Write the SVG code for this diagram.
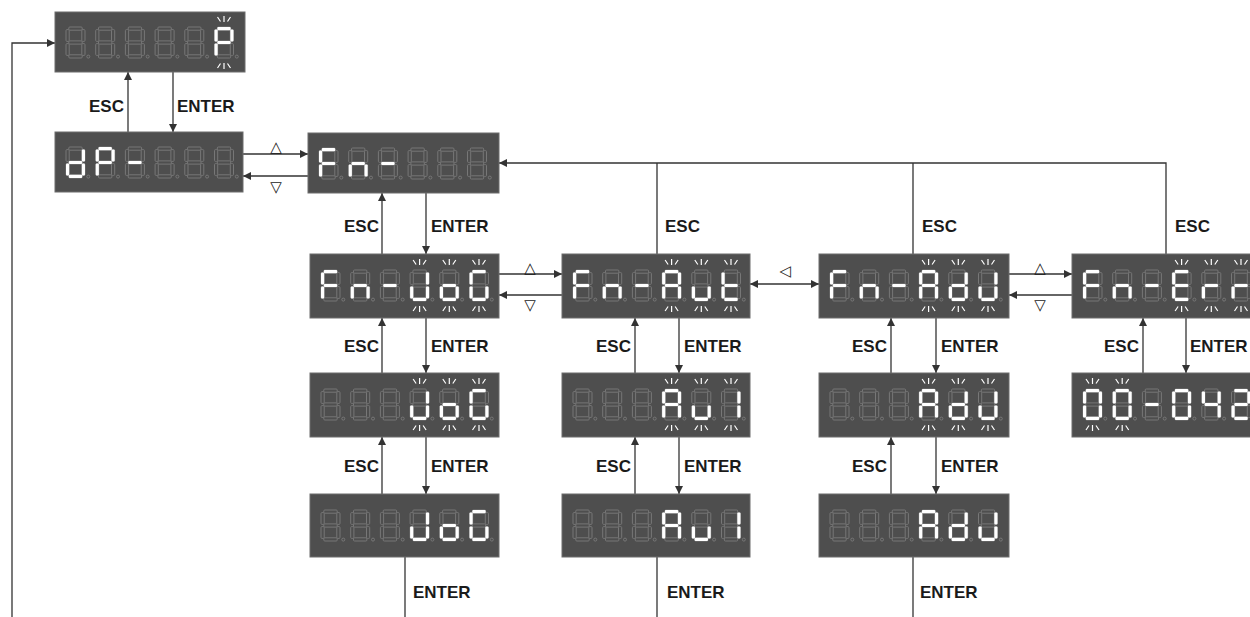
<svg xmlns="http://www.w3.org/2000/svg" xmlns:xlink="http://www.w3.org/1999/xlink" width="1250" height="617" viewBox="0 0 1250 617">
<style>
.box{fill:#4e4e4e;stroke:#6c6c6c;stroke-width:1}
.ln{fill:none;stroke:#333;stroke-width:1.3}
.lb{font-family:"Liberation Sans",Arial,sans-serif;font-weight:bold;font-size:17px;fill:#1a1a1a}
.tri{font-family:"DejaVu Sans",sans-serif;font-size:15px;fill:#1a1a1a;text-anchor:middle}
</style>
<defs>
<marker id="ar" viewBox="0 0 10 10" refX="10" refY="5" markerWidth="8" markerHeight="8" orient="auto-start-reverse" markerUnits="userSpaceOnUse"><path d="M0,0 L10,5 L0,10 z" fill="#333"/></marker>
<rect id="sa" x="2.8" y="0" width="13.4" height="3.2" rx="1"/>
<rect id="sf" x="0" y="2.6" width="3.2" height="11.8" rx="1"/>
<rect id="sb" x="15.8" y="2.6" width="3.2" height="11.8" rx="1"/>
<rect id="sg" x="2.8" y="13.9" width="13.4" height="3.2" rx="1"/>
<rect id="se" x="0" y="16.6" width="3.2" height="11.8" rx="1"/>
<rect id="sc" x="15.8" y="16.6" width="3.2" height="11.8" rx="1"/>
<rect id="sd" x="2.8" y="27.8" width="13.4" height="3.2" rx="1"/>
<circle id="sp" cx="22.3" cy="29.6" r="1.5"/>
<g id="c8" fill="none" stroke="#777" stroke-width="1"><use href="#sa"/><use href="#sb"/><use href="#sc"/><use href="#sd"/><use href="#se"/><use href="#sf"/><use href="#sg"/><use href="#sp"/></g>
<g id="cF"><use href="#c8"/><g fill="#fff"><use href="#sa"/><use href="#se"/><use href="#sf"/><use href="#sg"/></g></g>
<g id="cn"><use href="#c8"/><g fill="#fff"><use href="#sc"/><use href="#se"/><use href="#sg"/></g></g>
<g id="cm"><use href="#c8"/><g fill="#fff"><use href="#sg"/></g></g>
<g id="cJ"><use href="#c8"/><g fill="#fff"><use href="#sb"/><use href="#sc"/><use href="#sd"/><use href="#se"/></g></g>
<g id="co"><use href="#c8"/><g fill="#fff"><use href="#sc"/><use href="#sd"/><use href="#se"/><use href="#sg"/></g></g>
<g id="cG"><use href="#c8"/><g fill="#fff"><use href="#sa"/><use href="#sc"/><use href="#sd"/><use href="#se"/><use href="#sf"/></g></g>
<g id="cA"><use href="#c8"/><g fill="#fff"><use href="#sa"/><use href="#sb"/><use href="#sc"/><use href="#se"/><use href="#sf"/><use href="#sg"/></g></g>
<g id="cu"><use href="#c8"/><g fill="#fff"><use href="#sc"/><use href="#sd"/><use href="#se"/></g></g>
<g id="ct"><use href="#c8"/><g fill="#fff"><use href="#sd"/><use href="#se"/><use href="#sf"/><use href="#sg"/></g></g>
<g id="cd"><use href="#c8"/><g fill="#fff"><use href="#sb"/><use href="#sc"/><use href="#sd"/><use href="#se"/><use href="#sg"/></g></g>
<g id="cE"><use href="#c8"/><g fill="#fff"><use href="#sa"/><use href="#sd"/><use href="#se"/><use href="#sf"/><use href="#sg"/></g></g>
<g id="cr"><use href="#c8"/><g fill="#fff"><use href="#se"/><use href="#sg"/></g></g>
<g id="cP"><use href="#c8"/><g fill="#fff"><use href="#sa"/><use href="#sb"/><use href="#se"/><use href="#sf"/><use href="#sg"/></g></g>
<g id="c0"><use href="#c8"/><g fill="#fff"><use href="#sa"/><use href="#sb"/><use href="#sc"/><use href="#sd"/><use href="#se"/><use href="#sf"/></g></g>
<g id="c4"><use href="#c8"/><g fill="#fff"><use href="#sb"/><use href="#sc"/><use href="#sf"/><use href="#sg"/></g></g>
<g id="c2"><use href="#c8"/><g fill="#fff"><use href="#sa"/><use href="#sb"/><use href="#sd"/><use href="#se"/><use href="#sg"/></g></g>
<g id="c1"><use href="#c8"/><g fill="#fff"><use href="#sb"/><use href="#sc"/></g></g>
<path id="bk" d="M3,-10 L6,-5.5 M9.5,-11 V-5 M16,-10 L13,-5.5 M6,36.5 L3,41 M9.5,36 V42 M13,36.5 L16,41" fill="none" stroke="#fff" stroke-width="1.2"/>
</defs>
<rect width="1250" height="617" fill="#fff"/>

<g id="connectors">
<path class="ln" d="M12,617 V43 H55" marker-end="url(#ar)"/>
<path class="ln" d="M128,132 V72" marker-end="url(#ar)"/>
<path class="ln" d="M173,72 V132" marker-end="url(#ar)"/>
<path class="ln" d="M243,154 H308" marker-end="url(#ar)"/>
<path class="ln" d="M308,176 H243" marker-end="url(#ar)"/>
<path class="ln" d="M382,254 V193" marker-end="url(#ar)"/>
<path class="ln" d="M426,193 V254" marker-end="url(#ar)"/>
<path class="ln" d="M499,274 H562" marker-end="url(#ar)"/>
<path class="ln" d="M562,295 H499" marker-end="url(#ar)"/>
<path class="ln" d="M750,284 H819" marker-start="url(#ar)" marker-end="url(#ar)"/>
<path class="ln" d="M1009,274 H1072" marker-end="url(#ar)"/>
<path class="ln" d="M1072,295 H1009" marker-end="url(#ar)"/>
<path class="ln" d="M1166,254 V163 H499" marker-end="url(#ar)"/>
<path class="ln" d="M657,254 V163 M913,254 V163"/>
<path class="ln" d="M382,373 V318" marker-end="url(#ar)"/>
<path class="ln" d="M426,318 V373" marker-end="url(#ar)"/>
<path class="ln" d="M382,494 V437" marker-end="url(#ar)"/>
<path class="ln" d="M426,437 V494" marker-end="url(#ar)"/>
<path class="ln" d="M405,557 V617"/>
<path class="ln" d="M635,373 V318" marker-end="url(#ar)"/>
<path class="ln" d="M679,318 V373" marker-end="url(#ar)"/>
<path class="ln" d="M635,494 V437" marker-end="url(#ar)"/>
<path class="ln" d="M679,437 V494" marker-end="url(#ar)"/>
<path class="ln" d="M657,557 V617"/>
<path class="ln" d="M891,373 V318" marker-end="url(#ar)"/>
<path class="ln" d="M936,318 V373" marker-end="url(#ar)"/>
<path class="ln" d="M891,494 V437" marker-end="url(#ar)"/>
<path class="ln" d="M936,437 V494" marker-end="url(#ar)"/>
<path class="ln" d="M913,557 V617"/>
<path class="ln" d="M1143,373 V318" marker-end="url(#ar)"/>
<path class="ln" d="M1186,318 V373" marker-end="url(#ar)"/>
</g>

<g id="labels">
<text class="lb" x="89" y="112">ESC</text><text class="lb" x="177" y="112">ENTER</text>
<text class="lb" x="344" y="232">ESC</text><text class="lb" x="431" y="232">ENTER</text>
<text class="lb" x="665" y="232">ESC</text><text class="lb" x="922" y="232">ESC</text><text class="lb" x="1175" y="232">ESC</text>
<text class="lb" x="344" y="352">ESC</text><text class="lb" x="431" y="352">ENTER</text>
<text class="lb" x="596" y="352">ESC</text><text class="lb" x="684" y="352">ENTER</text>
<text class="lb" x="852" y="352">ESC</text><text class="lb" x="941" y="352">ENTER</text>
<text class="lb" x="1104" y="352">ESC</text><text class="lb" x="1190" y="352">ENTER</text>
<text class="lb" x="344" y="472">ESC</text><text class="lb" x="431" y="472">ENTER</text>
<text class="lb" x="596" y="472">ESC</text><text class="lb" x="684" y="472">ENTER</text>
<text class="lb" x="852" y="472">ESC</text><text class="lb" x="941" y="472">ENTER</text>
<text class="lb" x="413" y="598">ENTER</text><text class="lb" x="667" y="598">ENTER</text><text class="lb" x="920" y="598">ENTER</text>
<text class="tri" x="276" y="152">△</text><text class="tri" x="276" y="192">▽</text>
<text class="tri" x="530" y="273">△</text><text class="tri" x="530" y="310">▽</text>
<text class="tri" x="785" y="276">◁</text>
<text class="tri" x="1040" y="273">△</text><text class="tri" x="1040" y="310">▽</text>
</g>

<g id="n-top"><rect class="box" x="55" y="12" width="190" height="60"/>
<use href="#c8" x="66" y="27"/><use href="#c8" x="95.7" y="27"/><use href="#c8" x="125.4" y="27"/><use href="#c8" x="155.1" y="27"/><use href="#c8" x="184.8" y="27"/><use href="#cP" x="214.5" y="27"/><use href="#bk" x="214.5" y="27"/></g>

<g id="n-dP"><rect class="box" x="55" y="132" width="188" height="60"/>
<use href="#cd" x="66" y="147"/><use href="#cP" x="95.7" y="147"/><use href="#cm" x="125.4" y="147"/><use href="#c8" x="155.1" y="147"/><use href="#c8" x="184.8" y="147"/><use href="#c8" x="214.5" y="147"/></g>

<g id="n-Fn"><rect class="box" x="308" y="133" width="191" height="60"/>
<use href="#cF" x="319" y="148"/><use href="#cn" x="348.7" y="148"/><use href="#cm" x="378.4" y="148"/><use href="#c8" x="408.1" y="148"/><use href="#c8" x="437.8" y="148"/><use href="#c8" x="467.5" y="148"/></g>

<g id="n-FnJoG"><rect class="box" x="310" y="254" width="189" height="64"/>
<use href="#cF" x="321" y="270"/><use href="#cn" x="350.7" y="270"/><use href="#cm" x="380.4" y="270"/><use href="#cJ" x="410.1" y="270"/><use href="#co" x="439.8" y="270"/><use href="#cG" x="469.5" y="270"/>
<use href="#bk" x="410.1" y="270"/><use href="#bk" x="439.8" y="270"/><use href="#bk" x="469.5" y="270"/></g>

<g id="n-FnAut"><rect class="box" x="562" y="254" width="188" height="64"/>
<use href="#cF" x="573" y="270"/><use href="#cn" x="602.7" y="270"/><use href="#cm" x="632.4" y="270"/><use href="#cA" x="662.1" y="270"/><use href="#cu" x="691.8" y="270"/><use href="#ct" x="721.5" y="270"/>
<use href="#bk" x="662.1" y="270"/><use href="#bk" x="691.8" y="270"/><use href="#bk" x="721.5" y="270"/></g>

<g id="n-FnAdJ"><rect class="box" x="819" y="254" width="190" height="64"/>
<use href="#cF" x="830" y="270"/><use href="#cn" x="859.7" y="270"/><use href="#cm" x="889.4" y="270"/><use href="#cA" x="919.1" y="270"/><use href="#cd" x="948.8" y="270"/><use href="#cJ" x="978.5" y="270"/>
<use href="#bk" x="919.1" y="270"/><use href="#bk" x="948.8" y="270"/><use href="#bk" x="978.5" y="270"/></g>

<g id="n-FnErr"><rect class="box" x="1072" y="254" width="190" height="64"/>
<use href="#cF" x="1083" y="270"/><use href="#cn" x="1112.7" y="270"/><use href="#cm" x="1142.4" y="270"/><use href="#cE" x="1172.1" y="270"/><use href="#cr" x="1201.8" y="270"/><use href="#cr" x="1231.5" y="270"/>
<use href="#bk" x="1172.1" y="270"/><use href="#bk" x="1201.8" y="270"/><use href="#bk" x="1231.5" y="270"/></g>

<g id="n-JoG1"><rect class="box" x="310" y="373" width="189" height="64"/>
<use href="#c8" x="321" y="389"/><use href="#c8" x="350.7" y="389"/><use href="#c8" x="380.4" y="389"/><use href="#cJ" x="410.1" y="389"/><use href="#co" x="439.8" y="389"/><use href="#cG" x="469.5" y="389"/>
<use href="#bk" x="410.1" y="389"/><use href="#bk" x="439.8" y="389"/><use href="#bk" x="469.5" y="389"/></g>

<g id="n-Au1a"><rect class="box" x="562" y="373" width="188" height="64"/>
<use href="#c8" x="573" y="389"/><use href="#c8" x="602.7" y="389"/><use href="#c8" x="632.4" y="389"/><use href="#cA" x="662.1" y="389"/><use href="#cu" x="691.8" y="389"/><use href="#c1" x="721.5" y="389"/>
<use href="#bk" x="662.1" y="389"/><use href="#bk" x="691.8" y="389"/><use href="#bk" x="721.5" y="389"/></g>

<g id="n-AdJ1"><rect class="box" x="819" y="373" width="190" height="64"/>
<use href="#c8" x="830" y="389"/><use href="#c8" x="859.7" y="389"/><use href="#c8" x="889.4" y="389"/><use href="#cA" x="919.1" y="389"/><use href="#cd" x="948.8" y="389"/><use href="#cJ" x="978.5" y="389"/>
<use href="#bk" x="919.1" y="389"/><use href="#bk" x="948.8" y="389"/><use href="#bk" x="978.5" y="389"/></g>

<g id="n-Err1"><rect class="box" x="1072" y="373" width="190" height="64"/>
<use href="#c0" x="1083" y="389"/><use href="#c0" x="1112.7" y="389"/><use href="#cm" x="1142.4" y="389"/><use href="#c0" x="1172.1" y="389"/><use href="#c4" x="1201.8" y="389"/><use href="#c2" x="1231.5" y="389"/>
<use href="#bk" x="1083" y="389"/><use href="#bk" x="1112.7" y="389"/></g>

<g id="n-JoG2"><rect class="box" x="310" y="494" width="189" height="63"/>
<use href="#c8" x="321" y="510"/><use href="#c8" x="350.7" y="510"/><use href="#c8" x="380.4" y="510"/><use href="#cJ" x="410.1" y="510"/><use href="#co" x="439.8" y="510"/><use href="#cG" x="469.5" y="510"/></g>

<g id="n-Au1b"><rect class="box" x="562" y="494" width="188" height="63"/>
<use href="#c8" x="573" y="510"/><use href="#c8" x="602.7" y="510"/><use href="#c8" x="632.4" y="510"/><use href="#cA" x="662.1" y="510"/><use href="#cu" x="691.8" y="510"/><use href="#c1" x="721.5" y="510"/></g>

<g id="n-AdJ2"><rect class="box" x="819" y="494" width="190" height="63"/>
<use href="#c8" x="830" y="510"/><use href="#c8" x="859.7" y="510"/><use href="#c8" x="889.4" y="510"/><use href="#cA" x="919.1" y="510"/><use href="#cd" x="948.8" y="510"/><use href="#cJ" x="978.5" y="510"/></g>
</svg>
